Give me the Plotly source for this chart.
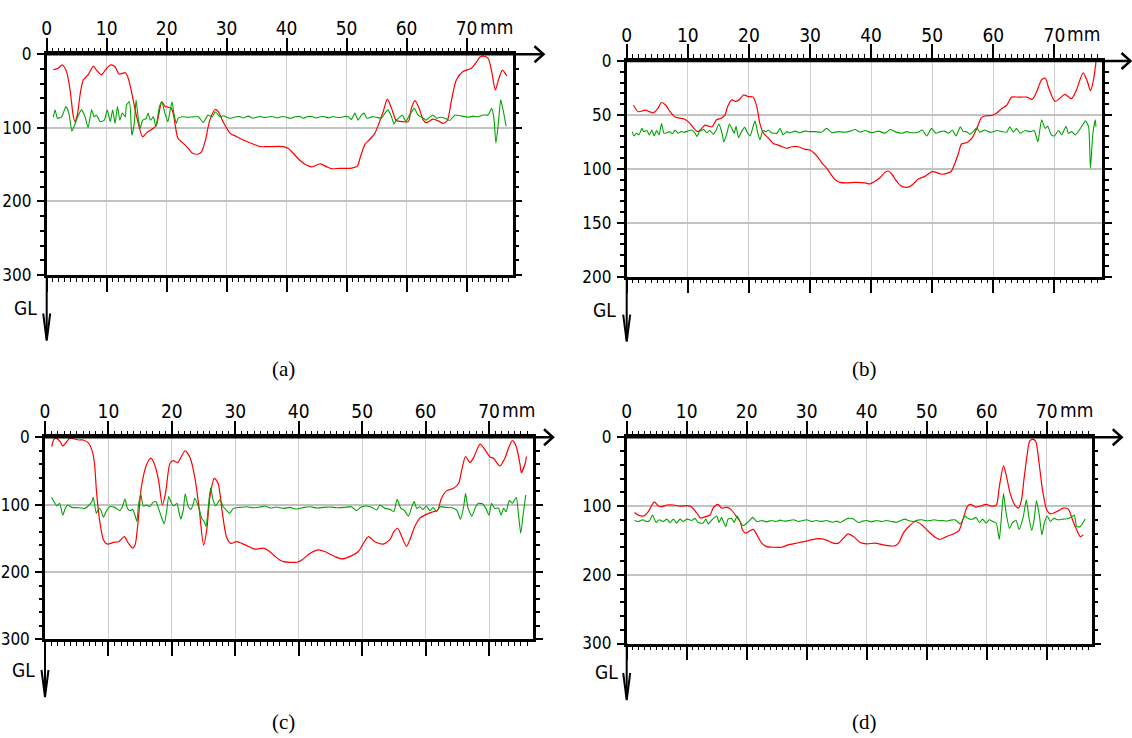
import plotly.graph_objects as go

# ---------------- profile data: position along the scan (mm) and grey level (GL) -------------
A_RED_MM = [1.1, 1.9, 2.6, 3.3, 3.9, 4.4, 4.7, 5.1, 5.6, 6.1, 6.9, 7.8, 8.3, 9.1, 10.0, 10.7, 11.4, 12.1, 13.1, 13.6,
            14.2, 15.0, 16.0, 16.7, 17.8, 18.3, 19.2, 19.7, 20.3, 20.8, 21.2, 21.9, 22.8, 23.6, 24.3, 25.3, 25.8, 26.4,
            27.2, 28.1, 28.6, 29.4, 30.6, 31.7, 32.8, 34.4, 35.6, 36.7, 39.4, 40.3, 41.1, 42.2, 43.3, 44.2, 45.6, 46.7,
            47.5, 48.9, 50.6, 51.8, 52.3, 53.1, 53.9, 54.7, 55.4, 56.1, 56.8, 57.5, 58.3, 59.4, 60.3, 60.8, 61.4, 62.1,
            62.8, 63.3, 64.4, 65.3, 66.1, 66.8, 67.5, 68.3, 69.4, 70.8, 71.7, 72.2, 72.8, 73.6, 74.2, 74.8, 75.4, 76.0,
            76.7]
A_RED_GL = [21, 19, 14.5, 23.5, 48.5, 82.5, 91.5, 82.5, 53, 35, 28, 16, 21.5, 28, 19, 14.5, 17, 27, 25, 32.5,
            53, 85, 112, 106.5, 100.5, 96, 64.5, 70.5, 72, 73.5, 85, 114.5, 121, 128, 134.5, 135.5, 132.5, 119,
            89.5, 75, 78, 91.5, 107.5, 112, 116.5, 122, 125.5, 125.5, 125.5, 128, 134.5, 144, 150.5, 153, 149, 153,
            155.5, 155, 155, 152, 139.5, 122, 115.5, 107.5, 94, 78, 61, 73.5, 90, 91.5, 91.5, 73.5, 63, 73.5,
            89.5, 93, 88, 90.5, 94, 90, 62, 35, 23.5, 19, 10, 4, 2.5, 5.5, 23.5, 48.5, 32.5, 21.5,
            29.5]
A_GRN_MM = [1.1, 1.4, 1.8, 2.5, 3.2, 3.7, 4.2, 4.7, 5.3, 5.8, 6.4, 6.9, 7.5, 7.9, 8.3, 8.9, 9.6, 10.1, 10.6, 11.0,
            11.4, 11.8, 12.2, 12.6, 13.1, 13.3, 13.8, 14.2, 14.6, 14.9, 15.3, 15.6, 16.0, 16.6, 16.9, 17.3, 17.8, 18.2,
            18.8, 19.2, 19.7, 20.2, 20.6, 20.9, 21.2, 21.6, 21.9, 22.5, 23.6, 24.4, 25.3, 26.1, 26.9, 27.6, 28.1, 28.9,
            29.5, 30.0, 30.5, 31.1, 31.6, 32.2, 32.8, 33.6, 34.4, 35.0, 35.6, 36.2, 36.7, 37.2, 37.8, 38.4, 39.2, 40.0,
            40.6, 41.4, 42.2, 42.8, 43.4, 44.2, 45.0, 45.6, 46.2, 47.0, 47.7, 48.3, 48.9, 49.6, 50.3, 50.8, 51.4, 51.9,
            52.5, 52.9, 53.4, 54.2, 55.0, 55.8, 56.4, 56.9, 57.5, 57.9, 58.3, 58.9, 59.3, 59.9, 60.4, 61.3, 61.9, 62.8,
            63.3, 63.9, 64.4, 65.0, 65.6, 66.4, 67.2, 68.1, 69.2, 70.3, 71.1, 71.9, 72.8, 73.6, 74.2, 74.6, 74.9, 75.3,
            75.7, 76.1, 76.6]
A_GRN_GL = [85.5, 75.5, 87, 85, 71, 80, 104.5, 95, 82.5, 75.5, 85, 99.5, 75.5, 85, 82.5, 91.5, 89.5, 75.5, 91.5, 75.5,
            94, 71, 89.5, 80, 85, 69, 64.5, 110, 94, 62, 89.5, 100.5, 89.5, 87, 80, 89.5, 85, 98.5,
            71, 64.5, 80, 91.5, 75.5, 64.5, 80, 94, 87, 85, 85.5, 85, 85, 92.5, 82.5, 85, 78, 85,
            83.5, 85.5, 87, 86, 85, 84.5, 86.5, 84, 87, 85.5, 84.5, 86, 85.5, 84.5, 85, 86.5, 84.5, 85.5,
            87, 85, 84.5, 87, 85, 84.5, 86.5, 85, 84.5, 86.5, 84.5, 85.5, 86, 84.5, 85, 88.5, 80, 89.5,
            82.5, 80, 87, 85, 85.5, 87, 80, 75.5, 85, 95, 89.5, 85, 82.5, 91.5, 84, 73.5, 82.5, 87,
            89.5, 85, 82.5, 87, 85.5, 87, 90, 82.5, 84, 85.5, 84, 85, 82.5, 82.5, 73.5, 89.5, 121, 94,
            62, 75.5, 97.5]

B_RED_MM = [1.1, 1.9, 2.7, 3.1, 3.7, 4.4, 5.1, 5.7, 6.4, 7.1, 7.9, 8.7, 9.5, 10.4, 11.0, 11.6, 12.3, 12.8, 13.5, 14.0,
            14.7, 15.5, 16.1, 16.5, 17.2, 17.9, 18.4, 19.1, 19.9, 20.7, 21.3, 21.8, 22.4, 23.2, 24.0, 24.8, 25.5, 26.2,
            27.0, 28.1, 29.2, 30.0, 30.7, 31.4, 32.0, 32.7, 33.3, 34.1, 34.9, 36.0, 37.5, 39.0, 39.8, 40.5, 41.5, 42.2,
            42.8, 43.4, 44.1, 44.8, 45.5, 46.3, 47.0, 47.7, 48.8, 50.0, 51.6, 53.1, 53.7, 54.3, 54.8, 55.7, 56.5, 57.3,
            58.0, 58.6, 59.7, 60.5, 61.4, 62.2, 63.0, 64.1, 65.5, 66.4, 67.1, 67.9, 68.5, 69.1, 70.1, 70.9, 71.7, 72.8,
            73.6, 74.7, 75.4, 75.9, 76.4, 76.8]
B_RED_GL = [41, 47, 46, 45.5, 47, 48, 44, 38.5, 41, 47, 52, 53, 54, 58, 62.5, 65.5, 62.5, 59.5, 60.5, 61,
            54.5, 53, 50, 42.5, 36, 37.5, 36, 31.5, 33, 33.5, 42.5, 58, 67, 71.5, 76.5, 78, 79.5, 81,
            79.5, 79.5, 82, 82.5, 85.5, 90, 95, 99, 104, 110, 112.5, 113, 112.5, 113, 114, 112, 108, 103.5,
            102, 105, 111, 115.5, 117, 116.5, 113.5, 109.5, 107, 102.5, 105, 102.5, 95, 85.5, 77, 75.5, 71.5, 62.5,
            53, 51, 50.5, 48.5, 44, 41, 33.5, 33.5, 33.5, 35.5, 28.5, 17.5, 16, 25.5, 37.5, 34.5, 31, 35,
            27, 11, 19, 27.5, 17.5, 1]
B_GRN_MM = [0.9, 1.2, 1.6, 2.0, 2.5, 2.8, 3.3, 3.7, 4.1, 4.5, 4.9, 5.3, 5.7, 6.1, 6.6, 7.0, 7.5, 7.9, 8.4, 8.9,
            9.4, 10.0, 10.6, 11.2, 11.5, 11.9, 12.6, 13.1, 13.6, 14.2, 14.6, 15.1, 15.6, 15.9, 16.4, 16.8, 17.2, 17.6,
            17.9, 18.3, 18.8, 19.3, 19.8, 20.2, 20.6, 21.0, 21.4, 21.8, 22.3, 22.8, 23.2, 23.7, 24.6, 25.1, 25.6, 26.2,
            26.7, 27.6, 28.4, 29.2, 30.0, 30.8, 31.9, 32.7, 33.6, 34.6, 35.7, 36.6, 37.4, 38.2, 39.0, 40.1, 41.2, 42.3,
            43.1, 43.9, 45.0, 45.8, 46.6, 47.7, 48.4, 49.1, 49.9, 50.6, 51.3, 52.0, 52.7, 53.3, 53.9, 54.6, 55.1, 55.6,
            56.2, 56.7, 57.3, 57.8, 58.6, 59.2, 59.7, 60.6, 61.4, 62.2, 62.7, 63.3, 63.8, 64.4, 65.2, 66.0, 66.7, 67.3,
            67.9, 68.5, 68.9, 69.5, 70.0, 70.7, 71.2, 71.9, 72.3, 72.8, 73.4, 73.9, 74.6, 75.1, 75.6, 75.9, 76.3, 76.7,
            76.8]
B_GRN_GL = [65.5, 69.5, 67, 68.5, 62.5, 65.5, 64.5, 68.5, 64, 69.5, 64.5, 68.5, 58, 67, 66.5, 65.5, 67.5, 64, 67, 65.5,
            66, 65, 64, 67, 70, 65.5, 63.5, 66.5, 64.5, 68, 64.5, 58.5, 67, 75, 67, 58.5, 62.5, 67,
            60.5, 71, 65.5, 61.5, 67, 69.5, 62.5, 55.5, 65.5, 73, 64.5, 65.5, 64, 66.5, 67, 62.5, 68.5, 65.5,
            66.5, 65, 66.5, 65, 65.5, 65.5, 66, 62.5, 66.5, 65.5, 66, 65, 63.5, 66, 64.5, 66.5, 65, 67,
            63.5, 65.5, 67, 65.5, 66.5, 66, 64, 69.5, 62.5, 67, 65.5, 65, 67, 64, 69.5, 61, 65.5, 65.5,
            68, 65.5, 62, 66, 64, 65.5, 66, 64.5, 65.5, 66, 61, 66, 62.5, 67, 64.5, 65.5, 64.5, 75,
            54.5, 62.5, 60.5, 68.5, 69.5, 64.5, 68.5, 60.5, 67, 65.5, 68.5, 65.5, 59.5, 55.5, 61, 99.5, 67, 54.5,
            61]

C_RED_MM = [1.05, 1.4, 1.8, 2.4, 2.8, 3.3, 3.9, 5.3, 6.0, 6.8, 7.4, 7.8, 8.1, 8.6, 9.2, 9.8, 10.8, 11.6, 12.5, 13.1,
            13.8, 14.2, 14.7, 15.2, 16.0, 16.7, 17.3, 17.9, 18.5, 19.0, 19.7, 20.2, 20.9, 21.5, 22.1, 22.9, 23.6, 24.3,
            25.0, 25.5, 26.0, 26.7, 27.3, 27.9, 28.6, 29.3, 30.2, 31.0, 32.1, 33.1, 34.4, 35.2, 36.3, 37.0, 37.6, 39.7,
            40.5, 41.8, 43.1, 44.1, 45.7, 46.8, 48.3, 49.4, 50.2, 51.0, 52.0, 53.3, 54.4, 55.0, 55.6, 56.2, 57.0, 57.5,
            58.3, 59.1, 60.2, 61.2, 61.9, 62.5, 63.3, 64.4, 65.2, 65.7, 66.3, 67.0, 67.6, 68.6, 69.4, 70.2, 70.7, 71.7,
            72.5, 73.2, 73.7, 74.3, 74.9, 75.1, 75.7, 75.9]
C_RED_GL = [14, 3, 1.5, 6.5, 13, 8, 1.5, 4, 4, 8, 19, 38.5, 78, 122.5, 152, 158.5, 156, 155, 147.5, 156.5,
            164.5, 160, 122.5, 73.5, 41, 31, 41, 63.5, 100.5, 83, 38.5, 34.5, 37.5, 28.5, 20, 31, 58.5, 105.5,
            160, 137.5, 88, 61, 68.5, 108, 147.5, 157.5, 155, 157.5, 162, 166, 164.5, 168, 177, 182, 184.5, 185.5,
            182, 172, 167, 169.5, 177, 180.5, 176, 169.5, 157.5, 147.5, 155, 158.5, 151.5, 140, 135, 146.5, 162, 152.5,
            132.5, 120, 114, 110.5, 108, 90.5, 79.5, 75.5, 68.5, 48.5, 28.5, 37.5, 29.5, 10, 19, 29.5, 31, 42.5,
            31, 13, 5, 14, 41, 52.5, 38.5, 28.5]
C_GRN_MM = [1.05, 1.5, 1.9, 2.3, 2.8, 3.2, 3.6, 4.2, 5.3, 6.3, 6.8, 7.4, 7.6, 8.1, 8.5, 8.8, 9.2, 9.7, 10.2, 11.0,
            11.8, 12.2, 12.6, 13.0, 13.4, 13.8, 14.1, 14.5, 14.7, 15.1, 15.5, 16.0, 16.5, 17.0, 17.5, 17.9, 18.3, 18.8,
            19.2, 19.5, 20.0, 20.3, 20.8, 21.1, 21.4, 21.8, 22.1, 22.6, 23.0, 23.4, 23.6, 24.2, 24.7, 25.1, 25.4, 25.7,
            26.1, 26.5, 26.9, 27.6, 28.1, 28.6, 29.1, 29.7, 30.7, 31.8, 32.8, 33.9, 34.7, 35.5, 36.5, 37.6, 38.6, 39.7,
            40.8, 41.8, 42.9, 43.9, 45.0, 46.0, 47.2, 48.3, 49.1, 49.9, 50.7, 51.5, 52.3, 52.8, 53.6, 54.4, 55.0, 55.5,
            56.1, 56.6, 57.3, 57.8, 58.2, 58.6, 59.1, 59.6, 60.1, 60.7, 61.2, 61.7, 62.3, 63.1, 64.1, 64.9, 65.5, 66.0,
            66.3, 66.7, 67.3, 67.8, 68.3, 69.0, 69.5, 70.0, 70.4, 70.9, 71.5, 71.9, 72.3, 72.7, 73.2, 73.7, 74.3, 74.6,
            75.0, 75.4, 75.8]
C_GRN_GL = [89, 97, 102, 98, 115.5, 105.5, 100.5, 104, 104.5, 105.5, 102, 95.5, 89, 113, 105.5, 108, 118.5, 109, 103, 104,
            109, 103, 91.5, 105.5, 109, 107, 113, 125, 103, 84.5, 102, 100.5, 103, 97, 95.5, 105.5, 117, 128.5,
            108, 88, 99, 102, 98, 110.5, 121.5, 108, 84, 103, 107, 98, 90.5, 103, 120, 125, 132.5, 108,
            75.5, 93, 102, 92, 103, 108, 113, 105.5, 104, 103, 104.5, 103.5, 102, 105, 103.5, 105.5, 104, 106.5,
            104, 103, 105, 104, 103.5, 104.5, 104, 103, 109, 103, 102, 104, 108, 100.5, 105.5, 107, 110.5, 92,
            105.5, 108, 117, 104, 95.5, 105.5, 103, 107, 102, 109, 104, 110.5, 103, 104, 104.5, 108, 121.5, 103,
            83, 105.5, 117, 105.5, 98, 99, 105.5, 115.5, 98, 105.5, 105, 115.5, 105.5, 110.5, 94, 98, 89, 110.5,
            142.5, 113, 85.5]

D_RED_MM = [1.3, 1.9, 2.8, 3.6, 4.2, 4.6, 5.3, 5.8, 6.7, 7.8, 8.9, 10.0, 10.8, 11.7, 12.3, 13.1, 13.9, 14.4, 15.2, 15.8,
            16.7, 17.3, 17.9, 18.3, 18.9, 19.3, 19.8, 20.6, 21.1, 21.7, 22.5, 23.3, 24.4, 25.8, 26.9, 28.3, 29.7, 30.6,
            32.0, 33.3, 34.4, 35.3, 36.1, 36.9, 37.8, 38.9, 40.0, 41.4, 42.8, 44.7, 45.3, 46.1, 47.1, 48.1, 49.2, 50.3,
            51.4, 52.1, 53.3, 54.7, 55.4, 56.1, 56.8, 57.3, 58.2, 59.0, 59.9, 60.8, 61.6, 62.1, 62.8, 63.3, 63.9, 64.7,
            65.3, 65.8, 66.2, 66.7, 67.2, 67.8, 68.2, 68.8, 69.3, 70.0, 70.6, 71.7, 72.8, 73.6, 74.3, 75.0, 75.6, 76.1]
D_RED_GL = [109.5, 113, 114.5, 108, 98.5, 94, 100, 101, 98.5, 98.5, 100, 99.5, 101, 110.5, 117.5, 115.5, 113, 103, 97.5, 103,
            102, 104.5, 110.5, 115.5, 122.5, 134.5, 139.5, 135.5, 134, 142, 154, 159, 160, 160, 156.5, 154, 151.5, 149.5,
            147.5, 149.5, 154, 154, 147, 140.5, 144.5, 153, 155, 154, 156.5, 158, 154, 139.5, 129, 122.5, 127.5, 137,
            145.5, 148.5, 144.5, 139.5, 135.5, 118, 100, 97.5, 101.5, 100, 97.5, 100, 98.5, 72, 41.5, 57, 81.5, 98.5,
            103, 91, 62, 28, 5, 3, 6.5, 42.5, 76.5, 105.5, 111.5, 108, 103, 104.5, 120, 134.5, 144.5, 142]
D_GRN_MM = [1.3, 1.9, 2.7, 3.3, 3.8, 4.3, 4.9, 5.4, 6.1, 6.7, 7.2, 7.8, 8.3, 8.9, 9.4, 10.1, 10.8, 11.4, 11.9, 12.7,
            13.2, 13.6, 14.2, 15.0, 15.4, 15.8, 16.1, 16.5, 16.9, 17.5, 17.9, 18.4, 18.9, 19.4, 20.0, 20.7, 21.0, 21.7,
            22.5, 23.3, 24.1, 24.9, 25.6, 26.3, 27.1, 27.8, 28.6, 29.4, 30.0, 30.8, 31.6, 32.4, 33.3, 33.9, 34.4, 35.0,
            35.6, 36.4, 36.9, 37.8, 38.6, 39.3, 40.0, 40.8, 41.7, 42.5, 43.3, 44.2, 45.0, 45.7, 46.4, 47.1, 47.8, 48.5,
            49.2, 49.9, 50.6, 51.3, 52.0, 52.7, 53.3, 54.0, 54.7, 55.6, 56.0, 56.4, 56.9, 57.7, 58.2, 58.8, 59.3, 59.9,
            60.4, 61.0, 61.6, 62.1, 62.5, 62.8, 63.2, 63.8, 64.3, 64.9, 65.4, 66.1, 66.6, 67.1, 67.5, 67.9, 68.3, 68.8,
            69.2, 69.6, 70.1, 70.6, 71.2, 71.9, 72.8, 73.6, 74.2, 74.6, 75.0, 75.6, 76.4]
D_GRN_GL = [121, 122.5, 120, 122.5, 121.5, 113, 124, 120, 122.5, 119, 124, 119, 125, 119, 122.5, 119, 121, 118, 124, 125,
            119, 126, 120, 114.5, 124, 116.5, 122.5, 130, 119, 118, 124, 114.5, 122.5, 128.5, 125, 119, 116.5, 122.5,
            121, 123, 121, 122.5, 120.5, 122, 121, 120, 122.5, 121, 120, 122.5, 121, 122.5, 121, 123, 123.5, 122,
            124, 120, 118, 119, 124, 122, 121, 123, 121, 122.5, 121, 122.5, 123.5, 121, 119, 121.5, 122.5, 120.5,
            120, 121.5, 121, 120, 121.5, 121, 122, 120.5, 120, 126, 120, 114.5, 118, 119, 116.5, 124, 119, 125,
            120, 122.5, 125, 148.5, 110.5, 81.5, 108, 132.5, 124, 121, 134, 115.5, 91, 120, 135.5, 120, 92, 115.5,
            142, 125, 114.5, 122.5, 118, 120, 119, 118, 115.5, 113, 130, 130, 119]

X_TICKS = [0, 10, 20, 30, 40, 50, 60, 70]
X_UNIT = "mm"
Y_UNIT = "GL"
CAPTIONS = ["(a)", "(b)", "(c)", "(d)"]

# ---------------- page geometry (pixels) ----------------
W, H = 1132, 738
FONT = "Liberation Sans Narrow, Arial Narrow, DejaVu Sans Condensed, sans-serif"
SERIF = "Liberation Serif, Times New Roman, serif"
RED = "#ff0000"
GREEN = "#00a400"
LABEL_SIZE = 19
YLABEL_SIZE = 17

# left, right, x max (mm), top, bottom, GL max, GL label step, GL minor step,
# tip of x arrow, tip of GL arrow, GL label centre, caption centre
LAYOUT = [
    dict(x0=46.7, x1=512.7, xmax=77.7, y0=54.3, y1=275.0, gmax=300, gstep=100, gminor=20,
         xtip=543.5, ytip=340.5, gl=(25, 307.5), cap=(283, 369)),
    dict(x0=626.7, x1=1102.3, xmax=77.84, y0=61.0, y1=276.7, gmax=200, gstep=50, gminor=10,
         xtip=1130.5, ytip=341.7, gl=(604, 310), cap=(864, 369)),
    dict(x0=45.0, x1=533.3, xmax=76.98, y0=437.3, y1=639.4, gmax=300, gstep=100, gminor=20,
         xtip=553.0, ytip=697.0, gl=(23, 670), cap=(283, 722)),
    dict(x0=626.7, x1=1091.7, xmax=77.5, y0=437.3, y1=643.5, gmax=300, gstep=100, gminor=20,
         xtip=1121.7, ytip=700.0, gl=(606, 672), cap=(864, 722)),
]
SERIES = [
    (A_RED_MM, A_RED_GL, A_GRN_MM, A_GRN_GL),
    (B_RED_MM, B_RED_GL, B_GRN_MM, B_GRN_GL),
    (C_RED_MM, C_RED_GL, C_GRN_MM, C_GRN_GL),
    (D_RED_MM, D_RED_GL, D_GRN_MM, D_GRN_GL),
]


def px(x):
    return x / W


def py(y):
    return 1 - y / H


fig = go.Figure()
shapes, annotations = [], []
axes = {}

for k, (geo, (rx, ry, gx, gy)) in enumerate(zip(LAYOUT, SERIES), start=1):
    xs = "" if k == 1 else str(k)
    xa, ya = "x" + xs, "y" + xs

    fig.add_trace(go.Scatter(x=rx, y=ry, xaxis=xa, yaxis=ya, mode="lines",
                             line=dict(color=RED, width=1.2, shape="spline", smoothing=0.7),
                             hoverinfo="skip", showlegend=False))
    fig.add_trace(go.Scatter(x=gx, y=gy, xaxis=xa, yaxis=ya, mode="lines",
                             line=dict(color=GREEN, width=1.1, shape="spline", smoothing=0.5),
                             hoverinfo="skip", showlegend=False))

    axes["xaxis" + xs] = dict(
        domain=[px(geo["x0"]), px(geo["x1"])], range=[0, geo["xmax"]], anchor=ya, side="top",
        tickmode="array", tickvals=X_TICKS, ticktext=[str(v) for v in X_TICKS],
        ticks="outside", ticklen=14, tickwidth=2, tickcolor="black", ticklabelstandoff=-5,
        minor=dict(dtick=1, tick0=0, ticks="outside", ticklen=4, tickwidth=1.3,
                   tickcolor="black", showgrid=False),
        showline=True, linewidth=2.5, linecolor="black", mirror="ticks",
        showgrid=True, gridcolor="#cfcfcf", gridwidth=1.3, zeroline=False,
        tickfont=dict(family=FONT, size=LABEL_SIZE, color="black"), fixedrange=True, automargin=False,
    )
    # 5 mm half-step ticks
    axes["xaxis" + str(k + 4)] = dict(
        overlaying=xa, anchor=ya, side="top", range=[0, geo["xmax"]],
        tickmode="linear", tick0=5, dtick=10, ticks="outside", ticklen=7, tickwidth=1.5,
        tickcolor="black", showticklabels=False, showline=False, showgrid=False,
        zeroline=False, mirror="ticks", fixedrange=True, automargin=False,
    )
    axes["yaxis" + xs] = dict(
        domain=[py(geo["y1"]), py(geo["y0"])], range=[geo["gmax"], 0], anchor=xa, side="left",
        tickmode="linear", tick0=0, dtick=geo["gstep"],
        ticks="outside", ticklen=7, tickwidth=2, tickcolor="black", ticklabelstandoff=2,
        minor=dict(dtick=geo["gminor"], tick0=0, ticks="outside", ticklen=3.5, tickwidth=1.5,
                   tickcolor="black", showgrid=False),
        showline=True, linewidth=2.5, linecolor="black", mirror="ticks",
        showgrid=True, gridcolor="#c2c2c2", gridwidth=2.4, zeroline=False,
        tickfont=dict(family=FONT, size=YLABEL_SIZE, color="black"), fixedrange=True, automargin=False,
    )

    # x arrow beyond the frame
    y0, xt = geo["y0"], geo["xtip"]
    shapes.append(dict(type="line", xref="paper", yref="paper", x0=px(geo["x0"]), x1=px(xt - 1),
                       y0=py(y0), y1=py(y0), line=dict(color="black", width=2.5)))
    shapes.append(dict(type="path", xref="paper", yref="paper",
                       path=f"M {px(xt - 9)} {py(y0 - 8)} L {px(xt)} {py(y0)} L {px(xt - 9)} {py(y0 + 8)}",
                       line=dict(color="black", width=2.5)))
    # GL arrow below the frame
    x0, y1, yt = geo["x0"], geo["y1"], geo["ytip"]
    shapes.append(dict(type="line", xref="paper", yref="paper", x0=px(x0), x1=px(x0),
                       y0=py(y1), y1=py(yt - 1), line=dict(color="black", width=2)))
    shapes.append(dict(type="path", xref="paper", yref="paper",
                       path=f"M {px(x0 - 3.5)} {py(yt - 27)} L {px(x0)} {py(yt)} L {px(x0 + 3.5)} {py(yt - 27)}",
                       line=dict(color="black", width=2)))

    annotations.append(dict(text=X_UNIT, x=X_TICKS[-1], xref=xa, y=py(y0 - 27), yref="paper",
                            xanchor="left", yanchor="middle", xshift=11, showarrow=False,
                            font=dict(family=FONT, size=LABEL_SIZE, color="black")))
    annotations.append(dict(text=Y_UNIT, x=px(geo["gl"][0]), y=py(geo["gl"][1]), xref="paper", yref="paper",
                            xanchor="center", yanchor="middle", showarrow=False,
                            font=dict(family=FONT, size=LABEL_SIZE, color="black")))
    annotations.append(dict(text=CAPTIONS[k - 1], x=px(geo["cap"][0]), y=py(geo["cap"][1]),
                            xref="paper", yref="paper", xanchor="center", yanchor="middle",
                            showarrow=False, font=dict(family=SERIF, size=21, color="black")))

fig.update_layout(
    width=W, height=H, autosize=False,
    margin=dict(l=0, r=0, t=0, b=0, pad=0, autoexpand=False),
    paper_bgcolor="white", plot_bgcolor="white",
    shapes=shapes, annotations=annotations, showlegend=False,
    **axes,
)

fig.write_html("out.html", config=dict(displayModeBar=False))
